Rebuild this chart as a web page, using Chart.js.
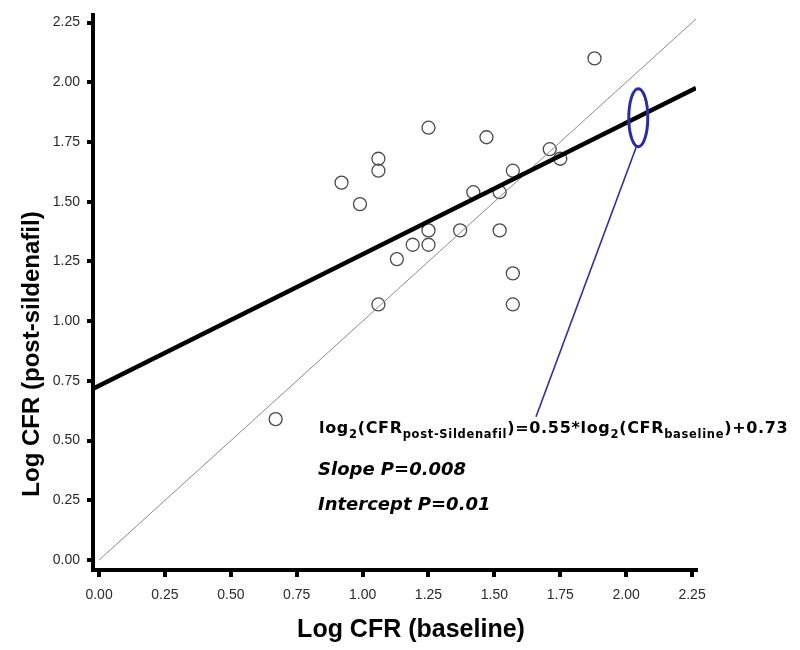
<!DOCTYPE html>
<html>
<head>
<meta charset="utf-8">
<script src="https://cdn.jsdelivr.net/npm/chart.js@4.4.0/dist/chart.umd.min.js"></script>
<style>
  html, body { margin: 0; padding: 0; background: #fff; }
</style>
</head>
<body>
<canvas id="grafico" width="800" height="650"></canvas>
<script>
// Valores (log CFR basal vs post-sildenafil)
const cfrBasal = [0.67, 0.92, 0.99, 1.06, 1.06, 1.06, 1.13, 1.19, 1.25, 1.25, 1.25,
                  1.37, 1.42, 1.47, 1.52, 1.52, 1.57, 1.57, 1.57, 1.71, 1.75, 1.88];
const cfrSildenafil = [0.59, 1.58, 1.49, 1.68, 1.63, 1.07, 1.26, 1.32, 1.32, 1.38, 1.81,
                       1.38, 1.54, 1.77, 1.54, 1.38, 1.63, 1.20, 1.07, 1.72, 1.68, 2.10];

// Recta de regresión y línea de identidad (extremos)
const regresionX = [-0.023, 2.265];
const regresionY = [0.717, 1.976];
const identidadX = [0, 2.265];
const identidadY = [0, 2.265];

const ticksEje = [0, 0.25, 0.5, 0.75, 1, 1.25, 1.5, 1.75, 2, 2.25];

// Anotación: elipse sobre la recta y línea hacia la ecuación
const elipseCentro = [2.046, 1.852];
const conectorX = [2.038, 1.658];
const conectorY = [1.728, 0.6];

const tituloX = 'Log CFR (baseline)';
const tituloY = 'Log CFR (post-sildenafil)';

const toPts = (xs, ys) => xs.map((x, i) => ({ x: x, y: ys[i] }));

const anotacion = {
  id: 'anotacion',
  afterDatasetsDraw(chart) {
    const ctx = chart.ctx;
    const sx = chart.scales.x, sy = chart.scales.y;
    ctx.save();
    // línea conectora
    ctx.strokeStyle = '#2e2e9c';
    ctx.lineWidth = 1.6;
    ctx.beginPath();
    ctx.moveTo(sx.getPixelForValue(conectorX[0]), sy.getPixelForValue(conectorY[0]));
    ctx.lineTo(sx.getPixelForValue(conectorX[1]), sy.getPixelForValue(conectorY[1]));
    ctx.stroke();
    // elipse
    ctx.strokeStyle = '#2b2ba3';
    ctx.lineWidth = 3;
    ctx.beginPath();
    ctx.ellipse(sx.getPixelForValue(elipseCentro[0]), sy.getPixelForValue(elipseCentro[1]), 9.5, 29, 0, 0, Math.PI * 2);
    ctx.stroke();

    // ecuación con subíndices
    ctx.fillStyle = '#000';
    ctx.textBaseline = 'alphabetic';
    const grande = 'bold 16px "DejaVu Sans"';
    const chica = 'bold 11.5px "DejaVu Sans"';
    const partes = [
      ['log', grande, 0], ['2', chica, 5], ['(CFR', grande, 0], ['post-Sildenafil', chica, 5],
      [')=0.55*log', grande, 0], ['2', chica, 5], ['(CFR', grande, 0], ['baseline', chica, 5],
      [')+0.73', grande, 0]
    ];
    // ancho total medido en el original ~469px: repartir el resto como espaciado
    let ancho = 0, letras = 0;
    partes.forEach(p => { ctx.font = p[1]; ancho += ctx.measureText(p[0]).width; letras += p[0].length; });
    const extra = Math.max(0, (469 - ancho) / letras);
    let x = 319;
    const base = 433;
    partes.forEach(p => {
      ctx.font = p[1];
      for (const c of p[0]) {
        ctx.fillText(c, x, base + p[2]);
        x += ctx.measureText(c).width + extra;
      }
    });
    ctx.font = 'italic bold 18px "DejaVu Sans"';
    ctx.fillText('Slope P=0.008', 318, 475);
    ctx.fillText('Intercept P=0.01', 318, 510);

    // títulos de los ejes
    ctx.font = 'bold 25px "Liberation Sans"';
    ctx.textAlign = 'center';
    ctx.fillText(tituloX, 411, 637);
    ctx.translate(39, 354);
    ctx.rotate(-Math.PI / 2);
    ctx.font = 'bold 24px "Liberation Sans"';
    ctx.fillText(tituloY, 0, 0);
    ctx.restore();
  }
};

const ctx = document.getElementById('grafico').getContext('2d');
new Chart(ctx, {
  type: 'scatter',
  data: {
    datasets: [
      {
        label: 'Pacientes',
        data: toPts(cfrBasal, cfrSildenafil),
        pointRadius: 6.5,
        pointBorderWidth: 1.3,
        pointBorderColor: '#4a4a4a',
        pointBackgroundColor: 'rgba(0,0,0,0)',
        order: 3
      },
      {
        type: 'line',
        label: 'Identidad',
        data: toPts(identidadX, identidadY),
        borderColor: '#8a8a8a',
        borderWidth: 1,
        pointRadius: 0,
        fill: false,
        order: 2
      },
      {
        type: 'line',
        label: 'Regresión',
        data: toPts(regresionX, regresionY),
        borderColor: '#000',
        borderWidth: 4.5,
        pointRadius: 0,
        fill: false,
        order: 1
      }
    ]
  },
  options: {
    responsive: false,
    animation: false,
    layout: { padding: { left: 0, right: 104, top: 10, bottom: 0 } },
    plugins: { legend: { display: false }, tooltip: { enabled: false } },
    scales: {
      x: {
        type: 'linear',
        min: -0.023,
        max: 2.265,
        afterBuildTicks: s => { s.ticks = ticksEje.map(v => ({ value: v })); },
        afterFit: s => { s.height = 80; },
        ticks: {
          color: '#2a2a2a',
          font: { family: 'Liberation Sans', size: 14 },
          padding: 10,
          callback: v => Number(v).toFixed(2)
        },
        grid: { display: true, drawOnChartArea: false, drawTicks: true, tickLength: 7, lineWidth: 4, color: '#000' },
        border: { display: true, width: 4, color: '#000' },
        title: { display: false }
      },
      y: {
        type: 'linear',
        min: -0.0415,
        max: 2.28,
        afterBuildTicks: s => { s.ticks = ticksEje.map(v => ({ value: v })); },
        afterFit: s => { s.width = 93; },
        ticks: {
          color: '#2a2a2a',
          font: { family: 'Liberation Sans', size: 14 },
          padding: 7,
          callback: v => Number(v).toFixed(2)
        },
        grid: { display: true, drawOnChartArea: false, drawTicks: true, tickLength: 6, lineWidth: 4, color: '#000' },
        border: { display: true, width: 4, color: '#000' },
        title: { display: false }
      }
    }
  },
  plugins: [anotacion]
});
</script>
</body>
</html>
